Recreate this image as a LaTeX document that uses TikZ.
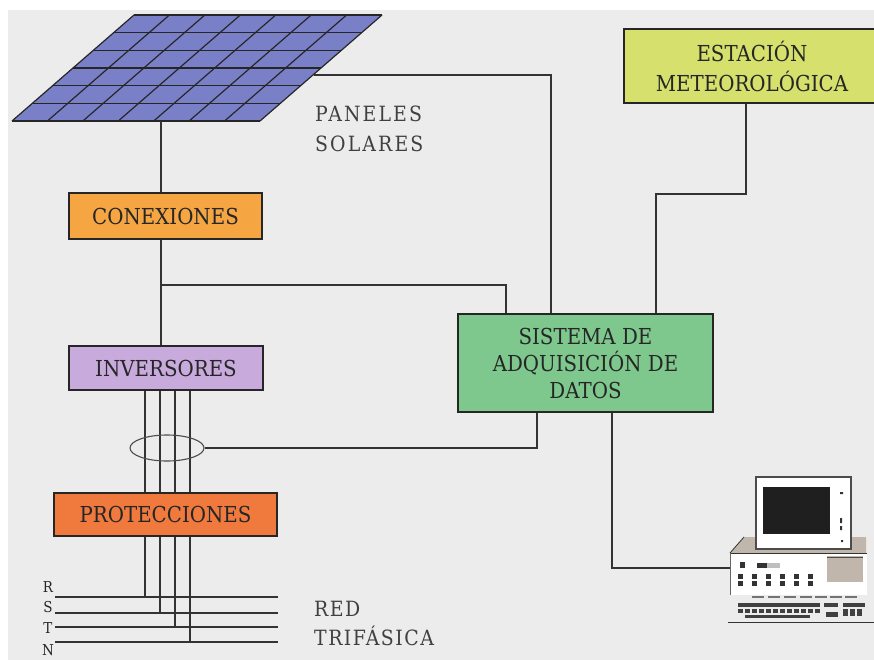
\documentclass[tikz,border=0pt]{standalone}
\usepackage{fontspec}
\usetikzlibrary{shapes.geometric}
\setmainfont{DejaVu Serif}[FakeStretch=0.9]
\begin{document}
\begin{tikzpicture}[x=1pt,y=-1pt,
  wire/.style={draw=black!80, line width=1.1pt},
  box/.style={draw=black!85, line width=2.6pt, inner sep=0pt, align=center,
    text=black!85, font=\fontsize{22}{27}\selectfont},
  lbl/.style={inner sep=0pt, anchor=west, align=left, text=black!75,
    font=\fontsize{21}{30}\selectfont\addfontfeature{LetterSpace=10}},
  phase/.style={inner sep=0pt, text=black!85, font=\fontsize{15}{15}\selectfont}]
\definecolor{panelC}{RGB}{122,128,200}
\definecolor{conC}{RGB}{245,166,66}
\definecolor{invC}{RGB}{200,170,220}
\definecolor{proC}{RGB}{240,122,62}
\definecolor{sisC}{RGB}{126,200,142}
\definecolor{estC}{RGB}{214,224,108}
\definecolor{bgC}{RGB}{236,236,236}
\definecolor{pcGrey}{RGB}{192,182,172}

\clip (0,0) rectangle (874,660);
\fill[white] (0,0) rectangle (874,660);
\fill[bgC] (8,10) rectangle (874,660);

% solar panel: 6 rows x 7 columns of cells
\fill[panelC] (12,121) -- (260,121) -- (382,15) -- (134,15) -- cycle;
\foreach \k in {0,...,6}
  \draw[black!85, line width=1.2pt] (12+\k*20.33,121-\k*17.67) -- (260+\k*20.33,121-\k*17.67);
\foreach \j in {0,...,7}
  \draw[black!85, line width=1.2pt] (12+\j*35.43,121) -- (134+\j*35.43,15);
\coordinate (panelB) at (161,121);
\coordinate (panelR) at (314,75);

\node[lbl] (plabel) at (315,129) {PANELES\\SOLARES};

% blocks
\node[box, fill=conC, minimum width=193pt, minimum height=46pt] (con) at (165.5,216) {CONEXIONES};
\node[box, fill=invC, minimum width=194pt, minimum height=44pt] (inv) at (166,368) {INVERSORES};
\node[box, fill=proC, minimum width=223pt, minimum height=43pt] (pro) at (165.5,514.5) {PROTECCIONES};
\node[box, fill=sisC, minimum width=255pt, minimum height=98pt] (sis) at (585.5,363) {SISTEMA DE\\ADQUISICIÓN DE\\DATOS};
\node[box, fill=estC, minimum width=256pt, minimum height=74pt, font=\fontsize{22}{30}\selectfont] (est) at (752,66) {ESTACIÓN\\METEOROLÓGICA};

% connectors
\coordinate (jA) at (161,285);
\coordinate (cA) at (551,75);
\coordinate (cB) at (746,194);
\coordinate (cC) at (656,194);
\coordinate (cD) at (537,448);
\coordinate (cE) at (612,568);
\draw[wire] (panelB) -- (panelB |- con.north);
\draw[wire] (panelB |- con.south) -- (panelB |- inv.north);
\draw[wire] (jA) -| (sis.north -| 506,0);
\draw[wire] (panelR) -- (cA) -- (cA |- sis.north);
\draw[wire] (est.south -| cB) -- (cB) -- (cC) -- (cC |- sis.north);

% three-phase lines
\foreach \n/\y in {R/597,S/613,T/627,N/642}{
  \coordinate (\n L) at (55,\y);
  \coordinate (\n R) at (278,\y);
  \draw[wire] (\n L) -- (\n R);
}
\node[phase] (lR) at (48,587) {R};
\node[phase] (lS) at (48,607) {S};
\node[phase] (lT) at (48,628) {T};
\node[phase] (lN) at (48,650) {N};
\foreach \x/\n in {145/R,160/S,175/T,190/N}{
  \draw[wire] (inv.south -| \x,0) -- (pro.north -| \x,0);
  \draw[wire] (pro.south -| \x,0) -- (\n L -| \x,0);
}
\node[lbl, font=\fontsize{21}{29}\selectfont\addfontfeature{LetterSpace=7}] (rlabel) at (314,623) {RED\\TRIFÁSICA};

% current sensor round the cables
\node[draw=black!70, line width=1.1pt, ellipse, minimum width=74pt, minimum height=26pt, inner sep=0pt] (sens) at (167,448) {};
\draw[wire] (sens.east) -- (cD) -- (cD |- sis.south);

% computer
\coordinate (pc) at (730,568);
\draw[wire] (sis.south -| cE) -- (cE) -- (pc);
\fill[pcGrey] (730,553) -- (744,537) -- (866,537) -- (866,553) -- cycle;
\draw[black!80, line width=0.8pt] (744,537) -- (730,553);
\fill[white] (756,477) rectangle (851,549);
\draw[black!70, line width=1.2pt] (756,477) rectangle (851,549);
\fill[black!88] (763,487) rectangle (830,534);
\fill[black!80] (840,492) rectangle (843,494) (840,518) rectangle (842,523) (840,526) rectangle (842,530) (841,540) rectangle (843,542);
\fill[white] (730,553) rectangle (867,595);
\draw[black!80, line width=1pt] (730,553) -- (867,553);
\draw[black!60, line width=0.6pt] (730,553) -- (730,595);
\fill[pcGrey] (827,556) rectangle (863,582);
\draw[black!70, line width=0.8pt] (827,557) -- (863,557);
\fill[black!80] (740,562) rectangle (745,568);
\fill[black!25] (757,563) rectangle (780,568);
\fill[black!80] (757,563) rectangle (767,568);
\foreach \x in {738,752,766,780,794,808}{
  \fill[black!80] (\x,574) rectangle (\x+5,579);
  \fill[black!80] (\x,581) rectangle (\x+5,586);
}
\foreach \x in {752,768,784,800,815,830,845}
  \fill[black!55] (\x,596) rectangle (\x+12,598);
\fill[black!75] (738,603) rectangle (820,607);
\fill[black!75] (824,603) rectangle (838,607);
\fill[black!75] (843,603) rectangle (865,607);
\foreach \x in {738,745,752,759,766,773,780,787,794,801,808,815}
  \fill[black!75] (\x,609) rectangle (\x+5,613);
\foreach \x in {843,850,857}
  \fill[black!75] (\x,609) rectangle (\x+5,616);
\fill[black!75] (745,615) rectangle (810,618);
\fill[black!75] (826,612) rectangle (838,617);
\draw[black!80, line width=1pt] (728,622) -- (874,622);
\end{tikzpicture}
\end{document}
